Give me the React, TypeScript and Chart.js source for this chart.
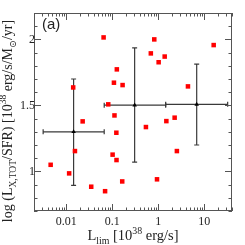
import React, { useEffect, useRef } from 'react';
import { Chart, registerables } from 'chart.js';
Chart.register(...registerables);

// Individual galaxies
const pointX = [0.0046, 0.0116, 0.0142, 0.0155, 0.0228, 0.035, 0.065, 0.070, 0.082, 0.102, 0.109, 0.112, 0.123, 0.124, 0.126, 0.168, 0.165, 0.54, 0.69, 0.82, 0.94, 1.02, 1.38, 1.50, 2.27, 2.54, 4.42, 16.0];
const pointY = [1.05, 0.985, 1.636, 1.154, 1.379, 0.884, 2.015, 0.85, 1.508, 1.127, 1.672, 1.424, 1.293, 1.086, 1.773, 1.654, 0.924, 1.336, 1.894, 2.0, 0.94, 1.827, 1.87, 1.381, 1.407, 1.154, 1.644, 1.957];

// Binned averages
const binX = [0.0145, 0.307, 6.84];
const binY = [1.30, 1.502, 1.508];
const binXLow = [0.00316, 0.067, 1.45];
const binXHigh = [0.067, 1.45, 32.2];
const binYLow = [0.894, 1.07, 1.20];
const binYHigh = [1.70, 1.936, 1.813];

const xTickLabels = [0.01, 0.1, 1, 10];
const yTickLabels = [1, 1.5, 2];
const X_MIN = 0.002, X_MAX = 40, Y_MIN = 0.7, Y_MAX = 2.2;

const FAMILY = '"Liberation Serif", "DejaVu Serif", serif';
const SANS = '"Liberation Sans", "DejaVu Sans", sans-serif';
const TXT = '#222';
const FRAME = '#555';

type Seg = { t: string; k?: 'sub' | 'sup' };
function drawRich(ctx: CanvasRenderingContext2D, segs: Seg[], x: number, y: number, size: number) {
  const fontFor = (s: Seg) => `${s.k ? size * 0.68 : size}px ${FAMILY}`;
  let total = 0;
  const widths = segs.map((s) => { ctx.font = fontFor(s); const w = ctx.measureText(s.t).width; total += w; return w; });
  let cx = x - total / 2;
  ctx.textAlign = 'left';
  ctx.textBaseline = 'alphabetic';
  segs.forEach((s, i) => {
    ctx.font = fontFor(s);
    const dy = s.k === 'sub' ? size * 0.28 : s.k === 'sup' ? -size * 0.4 : 0;
    ctx.fillText(s.t, cx, y + dy);
    cx += widths[i];
  });
}

const decor = {
  id: 'decor',
  beforeDatasetsDraw(chart: any) {
    const { ctx, scales } = chart;
    const xs = scales.x, ys = scales.y;
    ctx.save();
    ctx.strokeStyle = '#3a3a3a';
    ctx.lineWidth = 1.2;
    const cap = 2.5;
    for (let i = 0; i < binX.length; i++) {
      const px = xs.getPixelForValue(binX[i]);
      const py = ys.getPixelForValue(binY[i]);
      const x0 = xs.getPixelForValue(binXLow[i]);
      const x1 = xs.getPixelForValue(binXHigh[i]);
      const y0 = ys.getPixelForValue(binYLow[i]);
      const y1 = ys.getPixelForValue(binYHigh[i]);
      ctx.beginPath();
      ctx.moveTo(x0, py); ctx.lineTo(x1, py);
      ctx.moveTo(x0, py - cap); ctx.lineTo(x0, py + cap);
      ctx.moveTo(x1, py - cap); ctx.lineTo(x1, py + cap);
      ctx.moveTo(px, y0); ctx.lineTo(px, y1);
      ctx.moveTo(px - cap, y0); ctx.lineTo(px + cap, y0);
      ctx.moveTo(px - cap, y1); ctx.lineTo(px + cap, y1);
      ctx.stroke();
    }
    ctx.restore();
  },
  afterDraw(chart: any) {
    const { ctx, scales, chartArea } = chart;
    const xs = scales.x, ys = scales.y;
    const { left, right, top, bottom } = chartArea;
    ctx.save();
    ctx.strokeStyle = FRAME;
    ctx.lineWidth = 1;
    ctx.strokeRect(left + 0.5, top + 0.5, right - left - 1, bottom - top - 1);
    ctx.beginPath();
    // x ticks (log)
    for (let d = -3; d <= 1; d++) {
      for (let k = 1; k <= 9; k++) {
        const v = k * Math.pow(10, d);
        if (v < X_MIN || v > X_MAX) continue;
        const p = Math.round(xs.getPixelForValue(v)) + 0.5;
        const len = k === 1 ? 7 : 3.5;
        ctx.moveTo(p, bottom); ctx.lineTo(p, bottom - len);
        ctx.moveTo(p, top); ctx.lineTo(p, top + len);
      }
    }
    // y ticks
    for (let i = 7; i <= 22; i++) {
      const v = i / 10;
      const p = Math.round(ys.getPixelForValue(v)) + 0.5;
      const len = i % 5 === 0 ? 7 : 3.5;
      ctx.moveTo(left, p); ctx.lineTo(left + len, p);
      ctx.moveTo(right, p); ctx.lineTo(right - len, p);
    }
    ctx.stroke();

    ctx.fillStyle = TXT;
    ctx.font = `12px ${FAMILY}`;
    ctx.textAlign = 'center';
    ctx.textBaseline = 'middle';
    xTickLabels.forEach((v) => {
      ctx.fillText(String(v), xs.getPixelForValue(v), bottom + 11);
    });
    ctx.textAlign = 'right';
    yTickLabels.forEach((v) => {
      ctx.fillText(String(v), left + 1, ys.getPixelForValue(v));
    });

    // panel label
    ctx.font = `15px ${SANS}`;
    ctx.textAlign = 'left';
    ctx.textBaseline = 'middle';
    ctx.fillText('(a)', left + 8, top + 12);

    // x title
    drawRich(ctx, [
      { t: 'L' }, { t: 'lim', k: 'sub' }, { t: ' [10' }, { t: '38', k: 'sup' }, { t: ' erg/s]' },
    ], (left + right) / 2, 240, 14.5);

    // y title
    ctx.translate(12, 121);
    ctx.rotate(-Math.PI / 2);
    drawRich(ctx, [
      { t: 'log (L' }, { t: 'X,TOT', k: 'sub' }, { t: '/SFR) [10' }, { t: '38', k: 'sup' },
      { t: ' erg/s/M' }, { t: '\u2299', k: 'sub' }, { t: '/yr]' },
    ], 0, 0, 14);
    ctx.restore();
  },
};

export default function App() {
  const ref = useRef<HTMLCanvasElement>(null);
  useEffect(() => {
    document.body.style.margin = '0';
    const chart = new Chart(ref.current!, {
      type: 'scatter',
      data: {
        datasets: [
          {
            data: pointX.map((x, i) => ({ x, y: pointY[i] })),
            pointStyle: 'rect',
            radius: 3.2,
            backgroundColor: '#ff0000',
            borderWidth: 0,
          },
          {
            data: binX.map((x, i) => ({ x, y: binY[i] })),
            pointStyle: 'triangle',
            radius: 2.6,
            backgroundColor: '#000',
            borderColor: '#000',
            borderWidth: 0,
          },
        ],
      },
      options: {
        responsive: false,
        animation: false,
        events: [],
        layout: { padding: { left: 34, right: 13, top: 13, bottom: 34 } },
        plugins: { legend: { display: false }, tooltip: { enabled: false } },
        scales: {
          x: { type: 'logarithmic', min: X_MIN, max: X_MAX, display: false },
          y: { type: 'linear', min: Y_MIN, max: Y_MAX, display: false },
        },
      },
      plugins: [decor],
    });
    return () => chart.destroy();
  }, []);
  return (
    <div style={{ width: 245, height: 245 }}>
      <canvas ref={ref} width={245} height={245} />
    </div>
  );
}
